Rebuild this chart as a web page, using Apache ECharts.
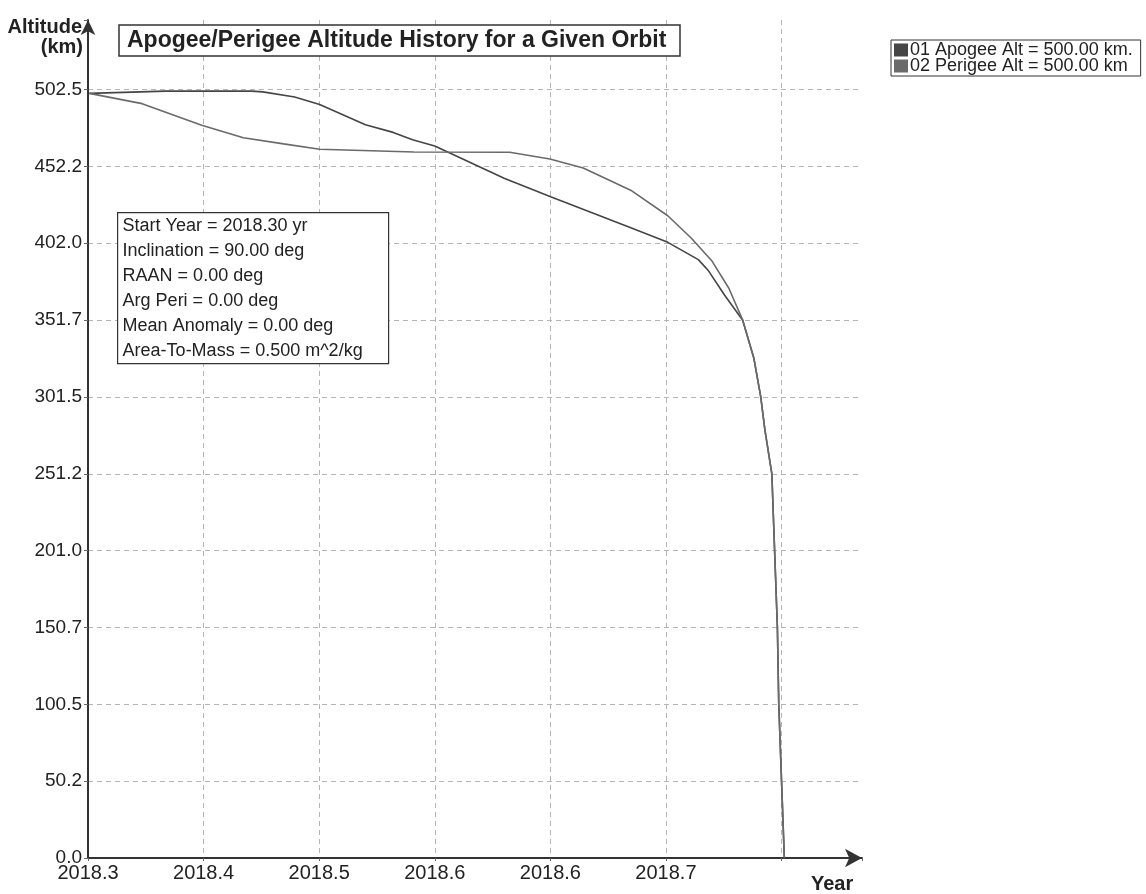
<!DOCTYPE html>
<html>
<head>
<meta charset="utf-8">
<title>Apogee/Perigee Altitude History</title>
<script src="https://cdn.jsdelivr.net/npm/echarts@6/dist/echarts.min.js"></script>
<style>
  html, body { margin: 0; padding: 0; background: #fff; }
  #chart { width: 1146px; height: 894px; }
</style>
</head>
<body>
<div id="chart"></div>
<script>
// values (year, km)
const apogeeYear = [2018.301, 2018.356, 2018.418, 2018.426, 2018.449, 2018.467, 2018.500, 2018.520, 2018.534, 2018.550, 2018.600, 2018.634, 2018.689, 2018.718, 2018.740, 2018.747, 2018.759, 2018.772, 2018.780, 2018.785, 2018.788, 2018.793, 2018.795, 2018.797, 2018.798, 2018.800, 2018.802]
const apogeeAlt = [500.0, 501.5, 501.5, 501.0, 497.6, 492.8, 479.5, 474.5, 469.7, 465.6, 444.5, 432.2, 413.0, 402.6, 391.3, 384.4, 368.0, 351.7, 327.0, 301.5, 280.0, 251.2, 201.0, 150.7, 100.5, 50.2, 0.0]

const perigeeYear = [2018.301, 2018.339, 2018.382, 2018.412, 2018.441, 2018.467, 2018.535, 2018.604, 2018.633, 2018.657, 2018.692, 2018.718, 2018.735, 2018.750, 2018.762, 2018.772, 2018.780, 2018.785, 2018.788, 2018.793, 2018.795, 2018.797, 2018.798, 2018.800, 2018.802]
const perigeeAlt = [500.0, 493.3, 479.2, 471.0, 467.0, 463.5, 461.7, 461.5, 457.1, 451.2, 436.3, 420.0, 405.3, 390.2, 372.6, 351.7, 327.0, 301.5, 280.0, 251.2, 201.0, 150.7, 100.5, 50.2, 0.0]

const seriesNames = ['01 Apogee Alt = 500.00 km.', '02 Perigee Alt = 500.00 km']

// tick labels as printed on the original
const xStart = 2018.3
const xStep = 1 / 12
const xTickLabels = ['2018.3', '2018.4', '2018.5', '2018.6', '2018.6', '2018.7']
const yStep = 50.25
const yTickLabels = ['0.0', '50.2', '100.5', '150.7', '201.0', '251.2', '301.5', '351.7', '402.0', '452.2', '502.5']

const infoLines = [
  'Start Year = 2018.30 yr',
  'Inclination = 90.00 deg',
  'RAAN = 0.00 deg',
  'Arg Peri = 0.00 deg',
  'Mean Anomaly = 0.00 deg',
  'Area-To-Mass = 0.500 m^2/kg'
]

const font = 'Liberation Sans'

function tickLabel(labels, start, step) {
  return (v) => {
    const i = Math.round((v - start) / step)
    if (Math.abs(v - (start + i * step)) > 1e-6) return ''
    return labels[i] || ''
  }
}

const chart = echarts.init(document.getElementById('chart'))

const option = {
  animation: false,
  backgroundColor: '#fff',
  color: ['#454545', '#6a6a6a'],
  title: {
    text: 'Apogee/Perigee Altitude History for a Given Orbit',
    left: 119,
    top: 25,
    padding: [4, 14, 4, 8],
    borderColor: '#333',
    borderWidth: 1.5,
    backgroundColor: '#fff',
    textStyle: { fontFamily: font, fontWeight: 'bold', fontSize: 23, color: '#222' }
  },
  legend: {
    orient: 'vertical',
    left: 891,
    top: 40,
    padding: [1, 8, 1, 3],
    itemGap: -2,
    itemWidth: 14,
    itemHeight: 13,
    icon: 'rect',
    borderColor: '#333',
    borderWidth: 1,
    backgroundColor: '#fff',
    textStyle: { fontFamily: font, fontSize: 18, lineHeight: 14, color: '#222', padding: [0, 0, 0, -3] },
    data: seriesNames
  },
  grid: { left: 88, right: 284, top: 20, bottom: 36 },
  xAxis: {
    type: 'value',
    min: xStart,
    max: 2018.858,
    interval: xStep,
    axisLine: { lineStyle: { color: '#333', width: 2 }, symbol: ['none', 'arrow'], symbolSize: [14, 17] },
    axisTick: { show: true, length: 3, lineStyle: { color: '#666' } },
    axisLabel: {
      fontFamily: font, fontSize: 20, color: '#222', margin: 5,
      formatter: tickLabel(xTickLabels, xStart, xStep)
    },
    splitLine: { show: true, showMaxLine: false, lineStyle: { color: '#b5b5b5', type: [5, 4], width: 1 } }
  },
  yAxis: {
    type: 'value',
    min: 0,
    max: 548,
    interval: yStep,
    axisLine: { show: true, lineStyle: { color: '#333', width: 2 }, symbol: ['none', 'arrow'], symbolSize: [11, 15] },
    axisTick: { show: true, length: 4, lineStyle: { color: '#666' } },
    axisLabel: {
      fontFamily: font, fontSize: 19, color: '#222', margin: 6,
      formatter: tickLabel(yTickLabels, 0, yStep)
    },
    splitLine: { show: true, showMaxLine: false, lineStyle: { color: '#b5b5b5', type: [5, 4], width: 1 } }
  },
  graphic: [
    {
      type: 'text', right: 1146 - 82, top: 17,
      style: { text: 'Altitude', fontFamily: font, fontWeight: 'bold', fontSize: 20, fill: '#222' }
    },
    {
      type: 'text', right: 1146 - 83, top: 37,
      style: { text: '(km)', fontFamily: font, fontWeight: 'bold', fontSize: 20, fill: '#222' }
    },
    {
      type: 'text', left: 811, top: 874,
      style: { text: 'Year', fontFamily: font, fontWeight: 'bold', fontSize: 20, fill: '#222' }
    },
    {
      type: 'group', left: 117, top: 212, z: 100,
      children: [
        { type: 'rect', z: 100, shape: { x: 0, y: 0, width: 271, height: 151 }, style: { fill: '#fff', stroke: '#333', lineWidth: 1.2 } },
        ...infoLines.map((t, i) => ({
          type: 'text', z: 101, x: 5, y: 4 + i * 25,
          style: { text: t, fontFamily: font, fontSize: 18, fill: '#222' }
        }))
      ]
    }
  ],
  series: [
    {
      name: seriesNames[0],
      type: 'line',
      showSymbol: false,
      lineStyle: { width: 1.6 },
      data: apogeeYear.map((x, i) => [x, apogeeAlt[i]])
    },
    {
      name: seriesNames[1],
      type: 'line',
      showSymbol: false,
      lineStyle: { width: 1.6 },
      data: perigeeYear.map((x, i) => [x, perigeeAlt[i]])
    }
  ]
}

chart.setOption(option)
</script>
</body>
</html>
